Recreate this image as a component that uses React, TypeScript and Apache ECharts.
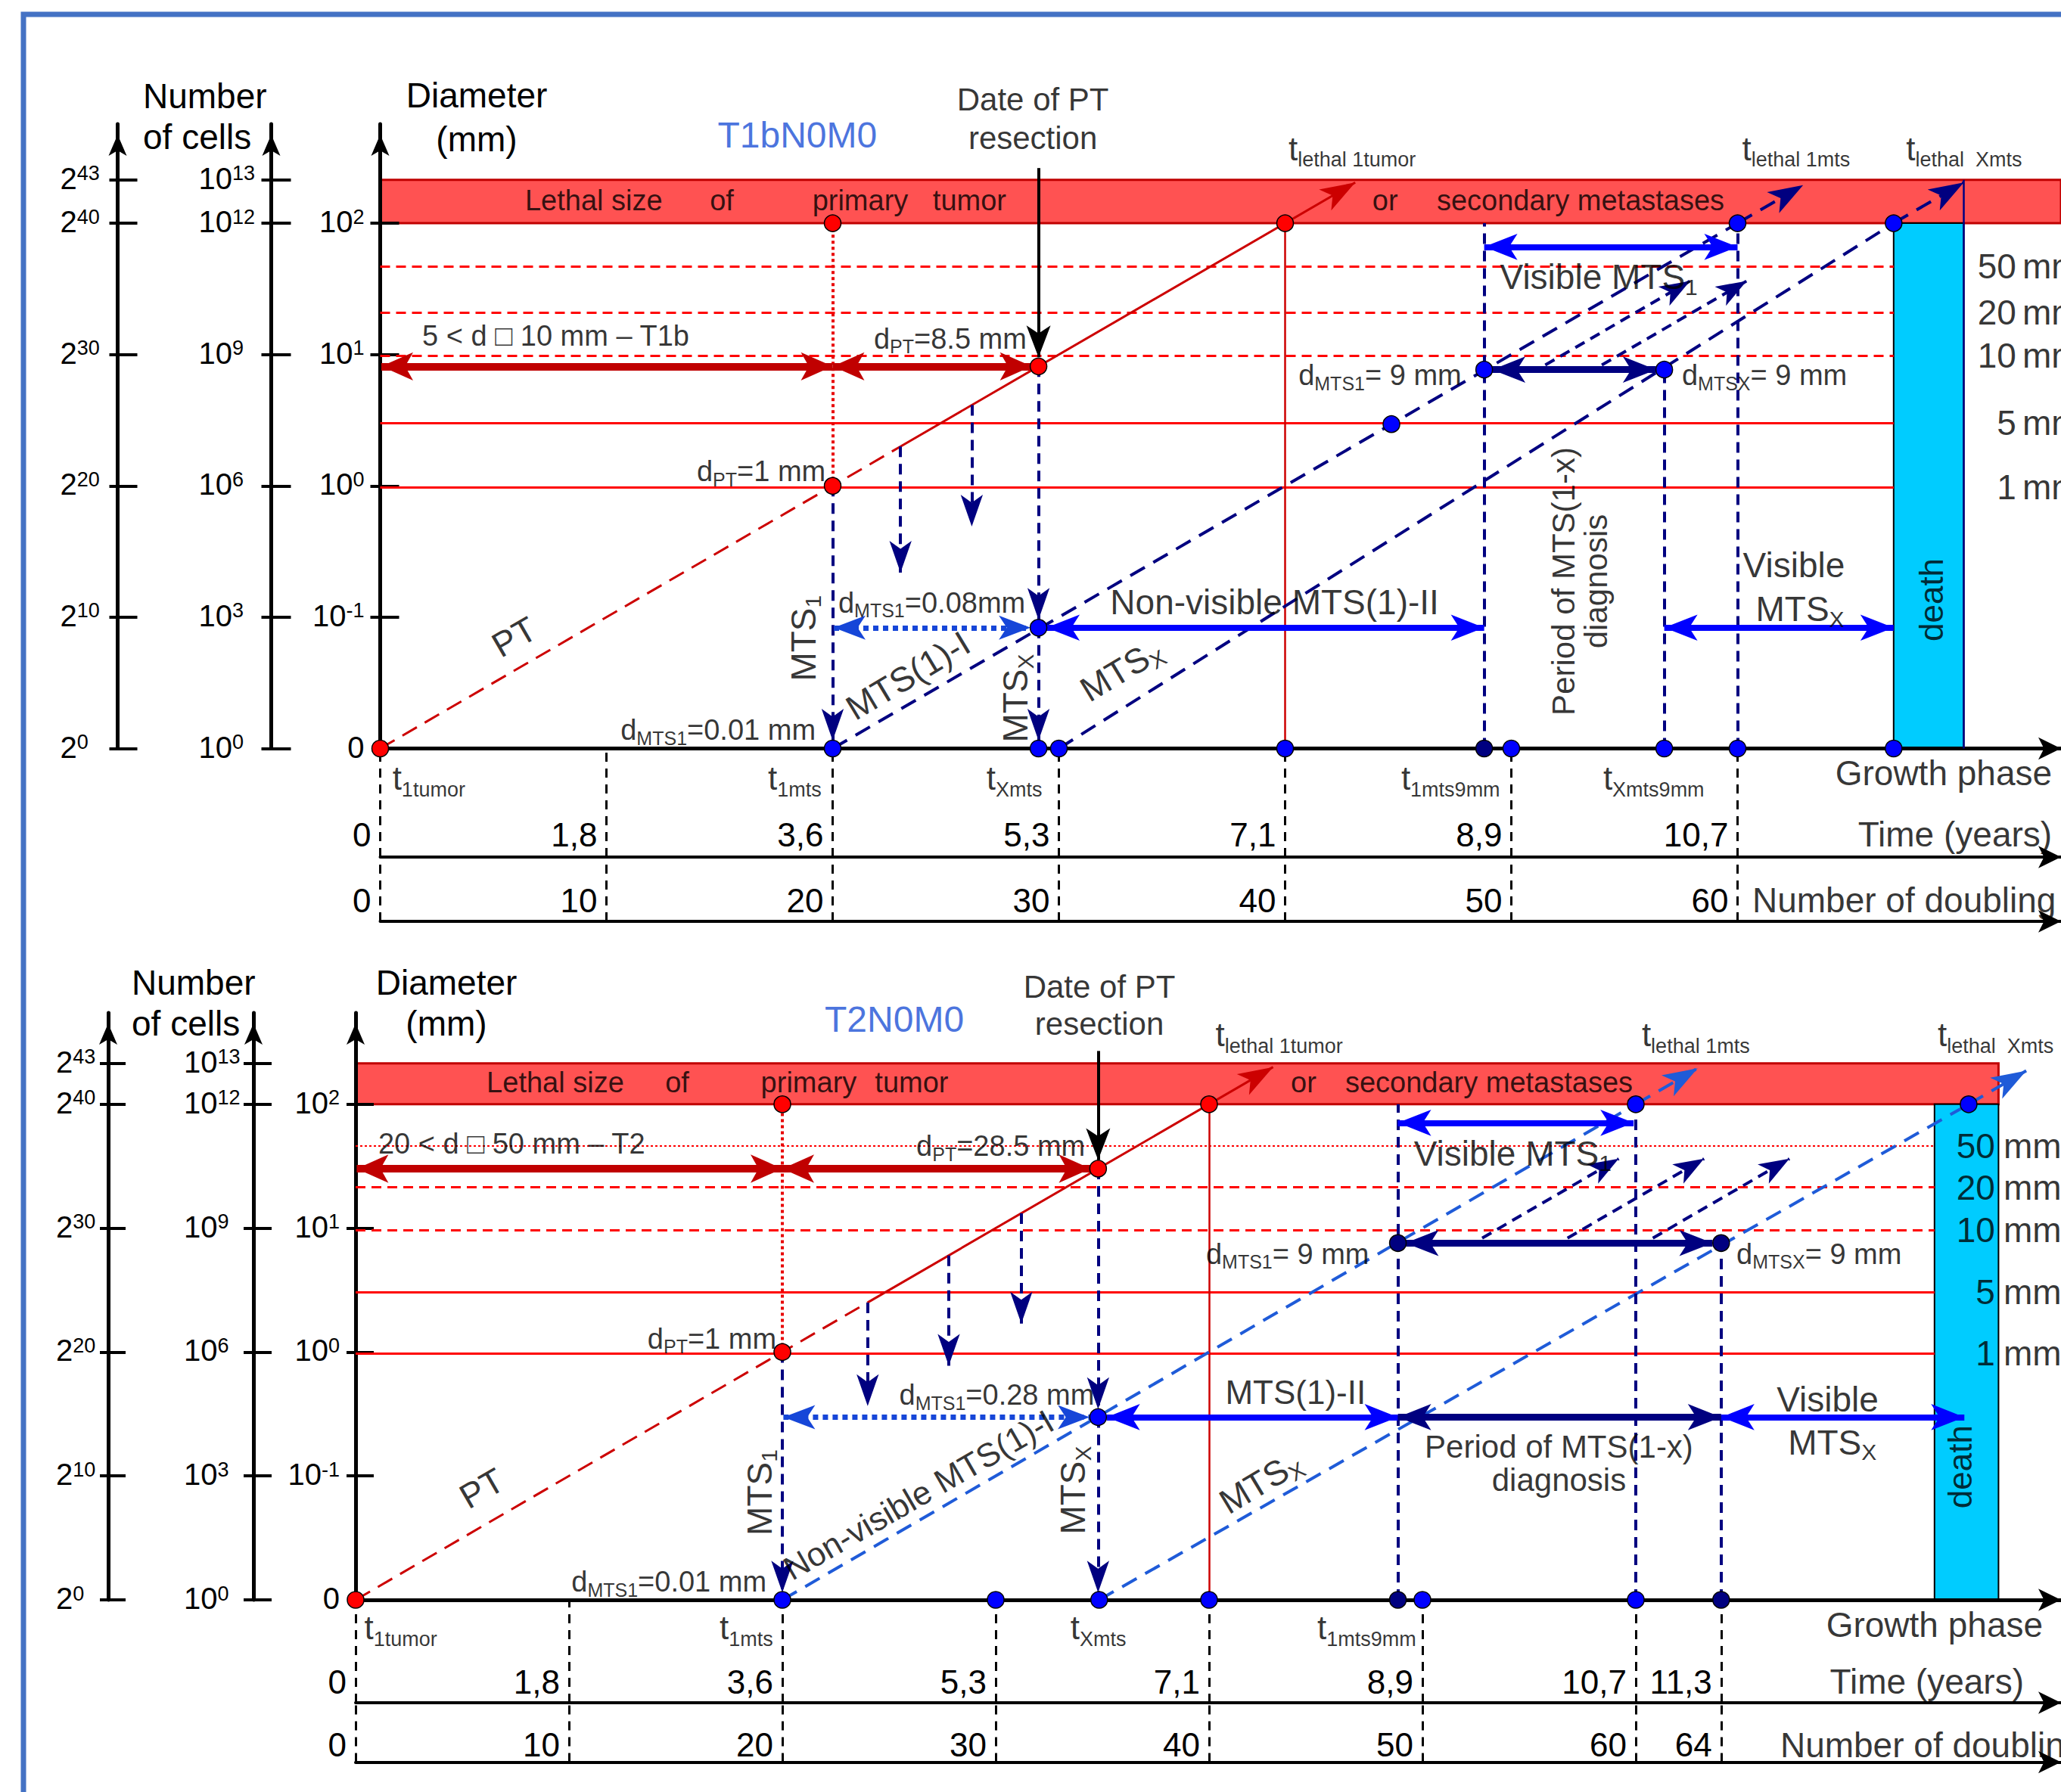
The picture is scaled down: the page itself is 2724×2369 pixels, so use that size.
import React, { useEffect, useRef } from 'react';
import * as echarts from 'echarts';

const FONT = "'Liberation Sans', Arial, Helvetica, sans-serif";
const COL = {
  red: '#FF0000', ptRed: '#CC0000', darkRed: '#C00000', band: '#FF5252', navy: '#000080',
  blue: '#0000FF', lineBlue: '#1F5BD8', dotBlue: '#1646D8', cyan: '#00CCFF', title: '#1A4FD6', frame: '#4472C4',
};

// ---------------- shared axis values ----------------
const CELL_TICKS = [0, 10, 20, 30, 40, 43.3];
const POW2_EXP = ['0', '10', '20', '30', '40', '43'];
const POW10_EXP = ['0', '3', '6', '9', '12', '13'];
const DIAM_TICKS = [0, 10, 20, 30, 40];
const DIAM_EXP = ['', '-1', '0', '1', '2'];
const MM_NAMES = ['50', '20', '10', '5', '1'];

// ---------------- panel 1 : T1bN0M0 (x, y in doublings) ----------------
const T1_PHASE_TICKS = [0, 10, 20, 30, 40, 50, 60];
const T1_YEARS = ['0', '1,8', '3,6', '5,3', '7,1', '8,9', '10,7'];
const T1_DOUBLINGS = ['0', '10', '20', '30', '40', '50', '60'];
const T1_MM_LEVELS = [36.7, 33.2, 29.9, 24.8, 19.9];
const T1_LETHAL = [40, 43.3];
const T1_DEATH = [66.9, 70];
const T1_PT_HIDDEN = [[0, 0], [23, 23]];
const T1_PT_VISIBLE = [[23, 23], [43.1, 43.1]];
const T1_MTS_TRACKS = [[[20, 0], [60, 40]], [[30, 0], [66.9, 40]]];
const T1_MTS_TIPS = [[[60, 40], [62.9, 42.9]], [[66.9, 40], [70, 43.1]]];
const T1_DROPS = [[[20, 20], [20, 0.6]], [[29.1, 29.1], [29.1, 9.8]], [[29.1, 9.2], [29.1, 0.6]], [[23, 23], [23, 13.4]], [[26.15, 26.15], [26.15, 16.9]]];
const T1_SECONDARY = [[[51.5, 29.2], [57.9, 35.6]], [[54, 29.2], [60.4, 35.6]]];
const T1_GUIDES = [[[48.8, 0], [48.8, 40]], [[56.76, 0], [56.76, 28.85]], [[60, 0], [60, 40]]];
const T1_LETHAL_TIME = [[40, 0], [40, 40]];
const T1_DEATH_EDGE = [[70, 0], [70, 43.3]];
const T1_RESECTION = [[29.1, 44.2], [29.1, 29.8]];
const T1_PT_SPANS = [[[0.05, 29.1], [20, 29.1]], [[20, 29.1], [28.8, 29.1]]];
const T1_PT_LIFETIME = [[20, 20], [20, 40]];
const T1_MTS_I = [[20.05, 9.2], [28.75, 9.2]];
const T1_SPANS_BLUE = [[[29.45, 9.2], [48.8, 9.2]], [[56.76, 9.2], [66.9, 9.2]], [[48.8, 38.2], [60, 38.2]]];
const T1_SPANS_NAVY = [[[49.15, 28.85], [56.4, 28.85]]];
const T1_DOTS_RED = [[0, 0], [20, 40], [20, 20], [29.1, 29.1], [40, 40]];
const T1_DOTS_BLUE = [[20, 0], [29.1, 0], [30, 0], [29.1, 9.2], [40, 0], [50, 0], [56.76, 0], [60, 0], [66.9, 0], [44.7, 24.7], [48.8, 28.85], [56.76, 28.85], [60, 40], [66.9, 40]];
const T1_DOTS_NAVY = [[48.8, 0]];

// ---------------- panel 2 : T2N0M0 ----------------
const T2_PHASE_TICKS = [0, 10, 20, 30, 40, 50, 60, 64];
const T2_YEARS = ['0', '1,8', '3,6', '5,3', '7,1', '8,9', '10,7', '11,3'];
const T2_DOUBLINGS = ['0', '10', '20', '30', '40', '50', '60', '64'];
const T2_MM_LEVELS = [36.65, 33.3, 29.85, 24.85, 19.9];
const T2_LETHAL = [40, 43.3];
const T2_DEATH = [74, 77];
const T2_PT_HIDDEN = [[0, 0], [24, 24]];
const T2_PT_VISIBLE = [[24, 24], [43, 43]];
const T2_MTS_TRACKS = [[[20, 0], [60, 40]], [[34.85, 0], [75.6, 40]]];
const T2_MTS_TIPS = [[[60, 40], [62.9, 42.9]], [[75.6, 40], [78.3, 42.7]]];
const T2_DROPS = [[[20, 20], [20, 0.6]], [[34.8, 34.8], [34.8, 15.4]], [[34.8, 14.75], [34.8, 0.6]], [[24, 24], [24, 15.65]], [[27.8, 27.8], [27.8, 18.9]], [[31.2, 31.2], [31.2, 22.3]]];
const T2_SECONDARY = [[[52.8, 29.2], [59.2, 35.6]], [[56.8, 29.2], [63.2, 35.6]], [[60.8, 29.2], [67.2, 35.6]]];
const T2_GUIDES = [[[48.85, 0], [48.85, 40]], [[60, 0], [60, 40]], [[64, 0], [64, 28.8]]];
const T2_LETHAL_TIME = [[40, 0], [40, 40]];
const T2_RESECTION = [[34.8, 44.3], [34.8, 35.5]];
const T2_PT_SPANS = [[[0.05, 34.8], [20, 34.8]], [[20, 34.8], [34.45, 34.8]]];
const T2_PT_LIFETIME = [[20, 20], [20, 40]];
const T2_MTS_I = [[20.05, 14.75], [34.4, 14.75]];
const T2_SPANS_BLUE = [[[35.2, 14.75], [48.85, 14.75]], [[64, 14.75], [75.4, 14.75]], [[48.85, 38.5], [59.9, 38.5]]];
const T2_SPANS_NAVY = [[[48.85, 14.75], [64, 14.75]], [[49.2, 28.8], [63.6, 28.8]]];
const T2_DOTS_RED = [[0, 0], [20, 40], [20, 20], [34.8, 34.8], [40, 40]];
const T2_DOTS_BLUE = [[20, 0], [30, 0], [34.85, 0], [40, 0], [50, 0], [60, 0], [34.8, 14.75], [60, 40], [75.6, 40]];
const T2_DOTS_NAVY = [[48.85, 0], [64, 0], [48.85, 28.8], [64, 28.8]];

// ---------------- annotations (text, x, y in data units) ----------------
type NoteOpt = { al?: string; rot?: number; fs?: number; lh?: number; color?: string };
type Note = [string, number, number, NoteOpt?];

const T1_NOTES: Note[] = [
  ['Lethal size', 9.44, 41.75, { fs: 38 }],
  ['of', 15.1, 41.75, { fs: 38 }],
  ['primary', 21.22, 41.75, { fs: 38 }],
  ['tumor', 26.05, 41.75, { fs: 38 }],
  ['or', 44.42, 41.75, { fs: 38 }],
  ['secondary metastases', 53.06, 41.75, { fs: 38 }],
  ['{n44|t}{s44|lethal 1tumor}', 40.15, 45.7, { al: 'left' }],
  ['{n44|t}{s44|lethal 1mts}', 60.2, 45.7, { al: 'left' }],
  ['{n44|t}{s44|lethal  Xmts}', 67.45, 45.7, { al: 'left' }],
  ['Date of PT', 28.85, 49.4, { fs: 42 }],
  ['resection', 28.85, 46.5, { fs: 42 }],
  ['T1bN0M0', 18.44, 46.74, { fs: 48, color: COL.title }],
  ['5 < d \u25A1 10 mm \u2013 T1b', 1.86, 31.42, { al: 'left', fs: 38 }],
  ['{n38|d}{s38|PT}{n38|=8.5 mm}', 21.82, 31.2, { al: 'left' }],
  ['{n38|d}{s38|PT}{n38|=1 mm}', 19.69, 21.1, { al: 'right' }],
  ['PT', 5.92, 8.5, { rot: 30, fs: 46 }],
  ['{n46|MTS}{s46|1}', 18.71, 8.4, { rot: 90 }],
  ['{n38|d}{s38|MTS1}{n38|=0.08mm}', 20.25, 11.1, { al: 'left' }],
  ['MTS(1)-I', 23.33, 5.56, { rot: 31, fs: 46 }],
  ['{n46|MTS}{s46|X}', 28.08, 3.83, { rot: 90 }],
  ['{n38|d}{s38|MTS1}{n38|=0.01 mm}', 19.25, 1.4, { al: 'right' }],
  ['Non-visible MTS(1)-II', 32.27, 11.15, { al: 'left', fs: 46 }],
  ['{n46|MTS}{s46|X}', 32.76, 6.0, { rot: 31 }],
  ['{n38|d}{s38|MTS1}{n38|= 9 mm}', 47.8, 28.4, { al: 'right' }],
  ['{n38|d}{s38|MTSX}{n38|= 9 mm}', 57.54, 28.4, { al: 'left' }],
  ['{n46|Visible MTS}{s46|1}', 49.5, 35.9, { al: 'left' }],
  ['Period of MTS(1-x)\ndiagnosis', 53.03, 12.73, { rot: 90, fs: 42, lh: 43 }],
  ['Visible', 62.49, 13.97, { fs: 46 }],
  ['{n46|MTS}{s46|X}', 62.76, 10.6],
  ['death', 68.57, 11.32, { rot: 90, fs: 44 }],
];
const T1_MM_NUM_X = 72.32;
const T1_MM_UNIT_X = 72.59;
const T1_ROW_NOTES: Note[] = [
  ['{n44|t}{s44|1tumor}', 0.54, 0.725, { al: 'left' }],
  ['{n44|t}{s44|1mts}', 17.14, 0.725, { al: 'left' }],
  ['{n44|t}{s44|Xmts}', 26.8, 0.725, { al: 'left' }],
  ['{n44|t}{s44|1mts9mm}', 45.13, 0.725, { al: 'left' }],
  ['{n44|t}{s44|Xmts9mm}', 54.06, 0.725, { al: 'left' }],
  ['Growth phase', 73.9, 0.774, { al: 'right', fs: 46 }],
  ['Time (years)', 73.9, 0.209, { al: 'right', fs: 46 }],
];
const T1_DBL_NOTES: Note[] = [['Number of doubling', 60.65, 0.33, { al: 'left', fs: 46 }]];

const T2_NOTES: Note[] = [
  ['Lethal size', 9.36, 41.77, { fs: 38 }],
  ['of', 15.07, 41.77, { fs: 38 }],
  ['primary', 21.24, 41.77, { fs: 38 }],
  ['tumor', 26.06, 41.77, { fs: 38 }],
  ['or', 44.43, 41.77, { fs: 38 }],
  ['secondary metastases', 53.12, 41.77, { fs: 38 }],
  ['{n44|t}{s44|lethal 1tumor}', 40.3, 45.62, { al: 'left' }],
  ['{n44|t}{s44|lethal 1mts}', 60.28, 45.62, { al: 'left' }],
  ['{n44|t}{s44|lethal  Xmts}', 74.15, 45.62, { al: 'left' }],
  ['Date of PT', 34.86, 49.47, { fs: 42 }],
  ['resection', 34.86, 46.52, { fs: 42 }],
  ['T2N0M0', 25.25, 46.85, { fs: 48, color: COL.title }],
  ['20 < d \u25A1 50 mm \u2013 T2', 1.06, 36.81, { al: 'left', fs: 38 }],
  ['{n38|d}{s38|PT}{n38|=28.5 mm}', 26.28, 36.6, { al: 'left' }],
  ['{n38|d}{s38|PT}{n38|=1 mm}', 19.72, 21.07, { al: 'right' }],
  ['PT', 5.91, 9.0, { rot: 30, fs: 46 }],
  ['{n46|MTS}{s46|1}', 18.92, 8.67, { rot: 90 }],
  ['{n38|d}{s38|MTS1}{n38|=0.28 mm}', 25.48, 16.53, { al: 'left' }],
  ['Non-visible MTS(1)-I', 26.38, 8.49, { rot: 30, fs: 44 }],
  ['{n46|MTS}{s46|X}', 33.62, 8.85, { rot: 90 }],
  ['{n38|d}{s38|MTS1}{n38|=0.01 mm}', 19.26, 1.45, { al: 'right' }],
  ['MTS(1)-II', 40.76, 16.73, { al: 'left', fs: 44 }],
  ['{n46|MTS}{s46|X}', 42.41, 9.52, { rot: 31 }],
  ['{n38|d}{s38|MTS1}{n38|= 9 mm}', 47.5, 27.9, { al: 'right' }],
  ['{n38|d}{s38|MTSX}{n38|= 9 mm}', 64.72, 27.9, { al: 'left' }],
  ['{n46|Visible MTS}{s46|1}', 49.6, 36.05, { al: 'left' }],
  ['Period of MTS(1-x)\ndiagnosis', 56.4, 11.02, { fs: 42, lh: 44 }],
  ['Visible', 68.99, 16.18, { fs: 46 }],
  ['{n46|MTS}{s46|X}', 69.21, 12.7],
  ['death', 75.2, 10.74, { rot: 90, fs: 44 }],
];
const T2_MM_NUM_X = 76.84;
const T2_MM_UNIT_X = 77.23;
const T2_ROW_NOTES: Note[] = [
  ['{n44|t}{s44|1tumor}', 0.41, 0.728, { al: 'left' }],
  ['{n44|t}{s44|1mts}', 17.06, 0.728, { al: 'left' }],
  ['{n44|t}{s44|Xmts}', 33.5, 0.728, { al: 'left' }],
  ['{n44|t}{s44|1mts9mm}', 45.07, 0.728, { al: 'left' }],
  ['Growth phase', 79.08, 0.757, { al: 'right', fs: 46 }],
  ['Time (years)', 78.19, 0.206, { al: 'right', fs: 46 }],
];
const T2_DBL_NOTES: Note[] = [['Number of doubling', 66.77, 0.29, { al: 'left', fs: 46 }]];

// ---------------- layout (pixels) ----------------
const LAYOUT1 = {
  left: 502.5, right: 2724, axisY: 989.5, tipY: 164, px: 29.9, py: 17.36, timeY: 1133, dblY: 1218,
  timeMargin: 30, dblMargin: 28, offCells: 144, offPow2: 347, diamMargin: 21, cellsMargin: 96, pow2Margin: 76,
  tickOut: [13, 13, 11], tickIn: [25, 26, 26],
  titles: { numX: 189, numY: 127, cellsY: 181, diamX: 630, diamY: 126, mmY: 184 },
};
const LAYOUT2 = {
  left: 470, right: 2724, axisY: 2115, tipY: 1339, px: 28.2, py: 16.38, timeY: 2251, dblY: 2329.5,
  timeMargin: 28, dblMargin: 23, offCells: 135, offPow2: 327, diamMargin: 21, cellsMargin: 92, pow2Margin: 69,
  tickOut: [12, 13, 11], tickIn: [24, 24, 23],
  titles: { numX: 174, numY: 1299, cellsY: 1353, diamX: 590, diamY: 1299, mmY: 1353 },
};

const PANEL1 = {
  layout: LAYOUT1, ticks: T1_PHASE_TICKS, years: T1_YEARS, doublings: T1_DOUBLINGS,
  mmLevels: T1_MM_LEVELS, mmEnd: T1_DEATH[0], mm50Dotted: false, mmNumX: T1_MM_NUM_X, mmUnitX: T1_MM_UNIT_X,
  lethal: T1_LETHAL, lethalEnd: 76, death: T1_DEATH,
  ptHidden: T1_PT_HIDDEN, ptVisible: T1_PT_VISIBLE, tracks: T1_MTS_TRACKS, tips: T1_MTS_TIPS, trackColor: COL.navy,
  drops: T1_DROPS, secondary: T1_SECONDARY, guides: T1_GUIDES, lethalTime: T1_LETHAL_TIME, deathEdge: T1_DEATH_EDGE,
  resection: T1_RESECTION, ptSpans: T1_PT_SPANS, ptLifetime: T1_PT_LIFETIME, mtsI: T1_MTS_I,
  spansBlue: T1_SPANS_BLUE, spansNavy: T1_SPANS_NAVY,
  dotsRed: T1_DOTS_RED, dotsBlue: T1_DOTS_BLUE, dotsNavy: T1_DOTS_NAVY,
  notes: T1_NOTES, rowNotes: T1_ROW_NOTES, dblNotes: T1_DBL_NOTES,
};
const PANEL2 = {
  layout: LAYOUT2, ticks: T2_PHASE_TICKS, years: T2_YEARS, doublings: T2_DOUBLINGS,
  mmLevels: T2_MM_LEVELS, mmEnd: T2_DEATH[0], mm50Dotted: true, mmNumX: T2_MM_NUM_X, mmUnitX: T2_MM_UNIT_X,
  lethal: T2_LETHAL, lethalEnd: T2_DEATH[1], death: T2_DEATH,
  ptHidden: T2_PT_HIDDEN, ptVisible: T2_PT_VISIBLE, tracks: T2_MTS_TRACKS, tips: T2_MTS_TIPS, trackColor: COL.lineBlue,
  drops: T2_DROPS, secondary: T2_SECONDARY, guides: T2_GUIDES, lethalTime: T2_LETHAL_TIME, deathEdge: null,
  resection: T2_RESECTION, ptSpans: T2_PT_SPANS, ptLifetime: T2_PT_LIFETIME, mtsI: T2_MTS_I,
  spansBlue: T2_SPANS_BLUE, spansNavy: T2_SPANS_NAVY,
  dotsRed: T2_DOTS_RED, dotsBlue: T2_DOTS_BLUE, dotsNavy: T2_DOTS_NAVY,
  notes: T2_NOTES, rowNotes: T2_ROW_NOTES, dblNotes: T2_DBL_NOTES,
};

// ---------------- styles ----------------
const rs = (fs: number, extra: any = {}) => ({ fontSize: fs, lineHeight: fs, fontFamily: FONT, color: '#000', ...extra });
const RICH: any = {
  n38: rs(38, { verticalAlign: 'top' }),
  s38: rs(25, { padding: [21, 0, 0, 0] }),
  n44: rs(44, { verticalAlign: 'top' }),
  s44: rs(27, { padding: [30, 0, 0, 0] }),
  n46: rs(46, { verticalAlign: 'top' }),
  s46: rs(30, { padding: [26, 0, 0, 0] }),
};
const AXR: any = {
  bs: { fontSize: 40, lineHeight: 44, verticalAlign: 'top', fontFamily: FONT, color: '#000' },
  sp: { fontSize: 27, lineHeight: 30, verticalAlign: 'top', fontFamily: FONT, color: '#000' },
};
const LS: any = {
  ptDash: { color: COL.ptRed, width: 3, type: [22, 12] },
  ptSolid: { color: COL.ptRed, width: 3, type: 'solid' },
  redDot: { color: '#E80000', width: 4, type: [4, 4] },
  navyDrop: { color: COL.navy, width: 4, type: [14, 9] },
  secondary: { color: COL.navy, width: 4, type: [14, 9] },
  redThin: { color: COL.ptRed, width: 2.5, type: 'solid' },
  navyThin: { color: COL.navy, width: 2.5, type: 'solid' },
  black: { color: '#000', width: 4, type: 'solid' },
  darkRed: { color: COL.darkRed, width: 10, type: 'solid' },
  dotted: { color: COL.dotBlue, width: 7, type: [7, 6] },
  blue: { color: COL.blue, width: 8, type: 'solid' },
  navy: { color: COL.navy, width: 9, type: 'solid' },
  mmDash: { color: COL.red, width: 3, type: [13, 8] },
  mmDot: { color: COL.red, width: 2, type: [3, 3] },
  mmSolid: { color: COL.red, width: 3, type: 'solid' },
};
const trackStyle = (color: string) => ({ color, width: 4, type: [22, 13] });
const AR: any = {
  thick: [28, 42], blue: [26, 44], navy: [26, 44], dotted: [24, 42], drop: [22, 42], small: [22, 40], tip: [24, 46], black: [24, 42],
};

function endPt(coord: number[], arrow: number[] | null, ls?: any) {
  const o: any = { coord };
  if (arrow) {
    o.symbol = 'arrow';
    o.symbolSize = arrow;
  } else {
    o.symbol = 'none';
  }
  if (ls) o.lineStyle = ls;
  return o;
}
function seg(pts: number[][], ls: any, a0: number[] | null = null, a1: number[] | null = null) {
  return [endPt(pts[0], a0, ls), endPt(pts[1], a1)];
}

function note([text, x, y, o = {}]: Note) {
  const fs = o.fs ?? 44;
  return {
    value: [x, y],
    label: {
      show: true, position: 'inside', formatter: text,
      align: o.al ?? 'center', verticalAlign: 'middle', rotate: o.rot ?? 0,
      fontSize: fs, lineHeight: o.lh ?? fs, fontFamily: FONT, color: o.color ?? '#000', rich: RICH,
    },
  };
}

function labelSeries(notes: Note[], xi: number, yi: number, extra: any = {}) {
  return {
    type: 'scatter', xAxisIndex: xi, yAxisIndex: yi, clip: false, silent: true, z: 20,
    symbolSize: 1, itemStyle: { color: 'rgba(0,0,0,0)' },
    data: notes.map(note), ...extra,
  };
}

function buildPanel(P: any, gi: number, xi: number, yi: number) {
  const L = P.layout;
  const W = L.right - L.left;
  const xMax = W / L.px;
  const yMax = (L.axisY - L.tipY) / L.py;
  const grid = [
    { left: L.left, top: L.tipY, width: W, height: L.axisY - L.tipY },
    { left: L.left, top: L.axisY, width: W, height: L.timeY - L.axisY },
    { left: L.left, top: L.timeY, width: W, height: L.dblY - L.timeY },
  ];
  const hAxisLine = (width: number) => ({
    show: true, onZero: false, lineStyle: { color: '#000', width }, symbol: ['none', 'arrow'], symbolSize: [22, 30],
  });
  const rowLabel = (labels: string[], margin: number) => ({
    show: true, customValues: P.ticks, inside: true, margin, align: 'right', verticalAlign: 'middle',
    padding: [0, 12, 0, 0], fontSize: 44, fontFamily: FONT, color: '#000',
    formatter: (v: number) => labels[P.ticks.indexOf(v)] ?? '',
  });
  const xAxis = [
    { type: 'value', gridIndex: gi, min: 0, max: xMax, z: 3, axisLine: hAxisLine(5), axisTick: { show: false }, axisLabel: { show: false }, splitLine: { show: false } },
    { type: 'value', gridIndex: gi + 1, min: 0, max: xMax, z: 3, axisLine: hAxisLine(4), axisTick: { show: false }, axisLabel: rowLabel(P.years, L.timeMargin), splitLine: { show: false } },
    { type: 'value', gridIndex: gi + 2, min: 0, max: xMax, z: 3, axisLine: hAxisLine(4), axisTick: { show: false }, axisLabel: rowLabel(P.doublings, L.dblMargin), splitLine: { show: false } },
  ];
  const yBase = { type: 'value', gridIndex: gi, min: 0, max: yMax, position: 'left', splitLine: { show: false }, z: 3 };
  const vLine = { show: true, onZero: false, lineStyle: { color: '#000', width: 5 }, symbol: ['none', 'arrow'], symbolSize: [18, 28], symbolOffset: [0, -14] };
  const noLine = { show: false, onZero: false };
  const tick = (vals: number[], len: number, inside: boolean) => ({ show: true, inside, length: len, customValues: vals, lineStyle: { color: '#000', width: 4 } });
  const DIAM_T = DIAM_TICKS.slice(1);
  const yAxis = [
    {
      ...yBase, offset: 0, axisLine: vLine, axisTick: tick(DIAM_T, L.tickOut[0], false),
      axisLabel: {
        show: true, customValues: DIAM_TICKS, margin: L.diamMargin, rich: AXR,
        formatter: (v: number) => { const i = DIAM_TICKS.indexOf(v); return i <= 0 ? '{bs|0}' : `{bs|10}{sp|${DIAM_EXP[i]}}`; },
      },
    },
    { ...yBase, offset: 0, axisLine: noLine, axisTick: tick(DIAM_T, L.tickIn[0], true), axisLabel: { show: false } },
    {
      ...yBase, offset: L.offCells, axisLine: vLine, axisTick: tick(CELL_TICKS, L.tickOut[1], false),
      axisLabel: {
        show: true, customValues: CELL_TICKS, margin: L.cellsMargin, align: 'left', rich: AXR,
        formatter: (v: number) => `{bs|10}{sp|${POW10_EXP[CELL_TICKS.indexOf(v)]}}`,
      },
    },
    { ...yBase, offset: L.offCells, axisLine: noLine, axisTick: tick(CELL_TICKS, L.tickIn[1], true), axisLabel: { show: false } },
    {
      ...yBase, offset: L.offPow2, axisLine: vLine, axisTick: tick(CELL_TICKS, L.tickOut[2], false),
      axisLabel: {
        show: true, customValues: CELL_TICKS, margin: L.pow2Margin, align: 'left', rich: AXR,
        formatter: (v: number) => `{bs|2}{sp|${POW2_EXP[CELL_TICKS.indexOf(v)]}}`,
      },
    },
    { ...yBase, offset: L.offPow2, axisLine: noLine, axisTick: tick(CELL_TICKS, L.tickIn[2], true), axisLabel: { show: false } },
    { type: 'value', gridIndex: gi + 1, min: 0, max: 1, show: false },
    { type: 'value', gridIndex: gi + 2, min: 0, max: 1, show: false },
  ];

  const main = { xAxisIndex: xi, yAxisIndex: yi };
  const segs: any[] = [
    ...P.mmLevels.map((y: number, i: number) =>
      seg([[0, y], [P.mmEnd, y]], i < 3 ? (i === 0 && P.mm50Dotted ? LS.mmDot : LS.mmDash) : LS.mmSolid)),
    seg(P.ptHidden, LS.ptDash),
    seg(P.ptVisible, LS.ptSolid, null, AR.tip),
    seg(P.ptLifetime, LS.redDot),
    seg(P.lethalTime, LS.redThin),
    ...P.tracks.map((s: any) => seg(s, trackStyle(P.trackColor))),
    ...P.tips.map((s: any) => seg(s, trackStyle(P.trackColor), null, AR.tip)),
    ...P.guides.map((s: any) => seg(s, LS.navyDrop)),
    ...P.drops.map((s: any) => seg(s, LS.navyDrop, null, AR.drop)),
    ...P.secondary.map((s: any) => seg(s, LS.secondary, null, AR.small)),
    ...(P.deathEdge ? [seg(P.deathEdge, LS.navyThin)] : []),
    seg(P.resection, LS.black, null, AR.black),
    ...P.ptSpans.map((s: any) => seg(s, LS.darkRed, AR.thick, AR.thick)),
    seg(P.mtsI, LS.dotted, AR.dotted, AR.dotted),
    ...P.spansBlue.map((s: any) => seg(s, LS.blue, AR.blue, AR.blue)),
    ...P.spansNavy.map((s: any) => seg(s, LS.navy, AR.navy, AR.navy)),
  ];
  const dots = (data: number[][], color: string) => ({
    type: 'scatter', ...main, data, symbolSize: 22, z: 10, silent: true, clip: false,
    itemStyle: { color, borderColor: '#000', borderWidth: 1.5, opacity: 1 },
  });
  const mmNotes: Note[] = [];
  P.mmLevels.forEach((y: number, i: number) => {
    mmNotes.push([MM_NAMES[i], P.mmNumX, y, { al: 'right', fs: 46 }]);
    mmNotes.push(['mm', P.mmUnitX, y, { al: 'left', fs: 46 }]);
  });
  const vertMarks = (lineWidth: number) => ({
    silent: true, symbol: ['none', 'none'], label: { show: false },
    lineStyle: { color: '#000', width: lineWidth, type: [12, 9] },
    data: P.ticks.map((v: number) => ({ xAxis: v })),
  });
  const series = [
    {
      type: 'scatter', ...main, data: [], silent: true, clip: false, z: 1,
      markArea: {
        silent: true, label: { show: false },
        data: [
          [{ coord: [0, P.lethal[0]], itemStyle: { color: COL.band, borderColor: COL.darkRed, borderWidth: 3 } }, { coord: [P.lethalEnd, P.lethal[1]] }],
          [{ coord: [P.death[0], 0], itemStyle: { color: COL.cyan, borderColor: '#000', borderWidth: 2 } }, { coord: [P.death[1], P.lethal[0]] }],
        ],
      },
    },
    {
      type: 'scatter', ...main, data: [], silent: true, clip: false,
      markLine: { silent: true, symbol: ['none', 'none'], label: { show: false }, emphasis: { disabled: true }, data: segs },
    },
    dots(P.dotsRed, COL.red),
    dots(P.dotsBlue, COL.blue),
    dots(P.dotsNavy, COL.navy),
    labelSeries([...P.notes, ...mmNotes], xi, yi),
    labelSeries(P.rowNotes, xi + 1, yi + 6, { markLine: vertMarks(3) }),
    labelSeries(P.dblNotes, xi + 2, yi + 7, { markLine: vertMarks(3) }),
  ];
  const T = L.titles;
  const gtext = (text: string, x: number, y: number, align: string) => ({
    type: 'text', x, y, silent: true,
    style: { text, font: `46px ${FONT}`, fill: '#000', align, textAlign: align, verticalAlign: 'middle', textVerticalAlign: 'middle' },
  });
  const graphics = [
    gtext('Number', T.numX, T.numY, 'left'),
    gtext('of cells', T.numX, T.cellsY, 'left'),
    gtext('Diameter', T.diamX, T.diamY, 'center'),
    gtext('(mm)', T.diamX, T.mmY, 'center'),
  ];
  return { grid, xAxis, yAxis, series, graphics };
}

function buildOption() {
  const p1 = buildPanel(PANEL1, 0, 0, 0);
  const p2 = buildPanel(PANEL2, 3, 3, 8);
  return {
    animation: false,
    backgroundColor: '#ffffff',
    textStyle: { fontFamily: FONT },
    grid: [...p1.grid, ...p2.grid],
    xAxis: [...p1.xAxis, ...p2.xAxis],
    yAxis: [...p1.yAxis, ...p2.yAxis],
    series: [...p1.series, ...p2.series],
    graphic: {
      elements: [
        { type: 'rect', silent: true, shape: { x: 31, y: 19, width: 2800, height: 2500 }, style: { fill: 'none', stroke: COL.frame, lineWidth: 7 } },
        ...p1.graphics, ...p2.graphics,
      ],
    },
  };
}

export default function App() {
  const ref = useRef<HTMLDivElement>(null);
  useEffect(() => {
    document.body.style.margin = '0';
    const chart = echarts.init(ref.current as HTMLDivElement, null, { renderer: 'svg', width: 2724, height: 2369 });
    chart.setOption(buildOption() as any);
    return () => chart.dispose();
  }, []);
  return <div ref={ref} style={{ position: 'absolute', left: 0, top: 0, width: 2724, height: 2369, background: '#fff' }} />;
}
